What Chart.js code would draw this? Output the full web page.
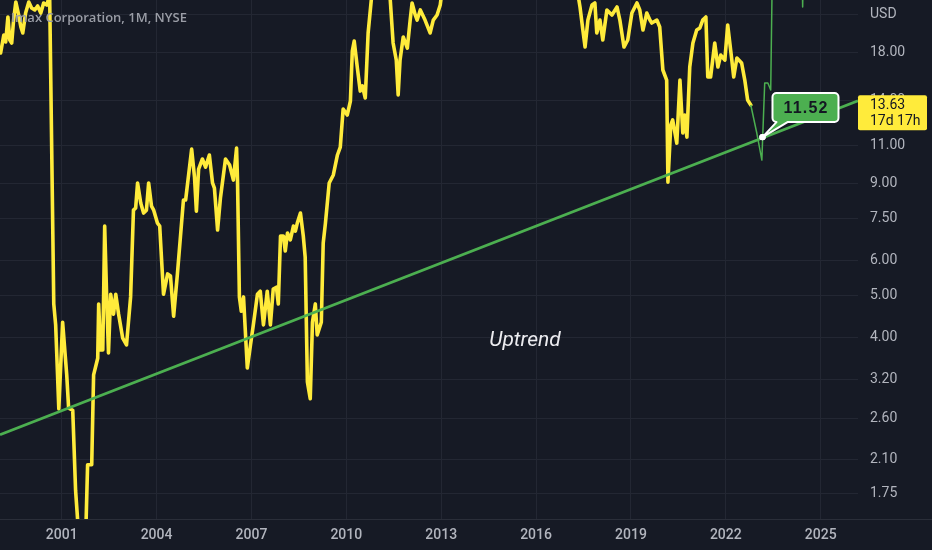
<!DOCTYPE html>
<html><head><meta charset="utf-8">
<script src="https://cdn.jsdelivr.net/npm/chart.js@4"></script>
<style>html,body{margin:0;padding:0;background:#161a25;overflow:hidden}canvas{display:block}</style>
</head><body>
<canvas id="c" width="932" height="550"></canvas>
<script>
const yearTicks=[2001,2004,2007,2010,2013,2016,2019,2022,2025];
const priceTicks=[1.75,2.1,2.6,3.2,4,5,6,7.5,9,11,14,18,22];
const priceDates=[1999.07,1999.17,1999.23,1999.30,1999.36,1999.42,1999.48,1999.55,1999.64,1999.71,
1999.77,1999.86,1999.96,2000.05,2000.15,2000.24,2000.34,2000.43,2000.53,2000.62,
2000.75,2000.81,2000.91,2001.03,2001.16,2001.22,2001.35,2001.44,2001.54,2001.76,
2001.82,2001.95,2002.01,2002.14,2002.17,2002.23,2002.30,2002.36,2002.42,2002.48,
2002.55,2002.64,2002.71,2002.80,2002.93,2003.05,2003.18,2003.27,2003.34,2003.40,
2003.50,2003.59,2003.68,2003.75,2003.84,2003.91,2004.03,2004.10,2004.22,2004.35,
2004.44,2004.54,2004.66,2004.85,2004.92,2005.11,2005.20,2005.26,2005.33,2005.45,
2005.55,2005.67,2005.77,2005.83,2005.93,2006.02,2006.18,2006.31,2006.43,2006.53,
2006.56,2006.62,2006.68,2006.75,2006.87,2006.97,2007.06,2007.19,2007.28,2007.38,
2007.50,2007.60,2007.69,2007.79,2007.85,2007.92,2008.01,2008.07,2008.14,2008.23,
2008.33,2008.39,2008.45,2008.55,2008.64,2008.70,2008.77,2008.86,2008.93,2009.02,
2009.08,2009.21,2009.27,2009.34,2009.46,2009.59,2009.72,2009.81,2009.90,2010.03,
2010.13,2010.19,2010.25,2010.35,2010.44,2010.51,2010.60,2010.69,2010.79,2010.95,
2011.23,2011.39,2011.48,2011.58,2011.64,2011.70,2011.80,2011.93,2012.02,2012.08,
2012.18,2012.24,2012.34,2012.49,2012.65,2012.75,2012.87,2012.97,2013.06,2013.91,
2014.86,2015.81,2016.60,2017.23,2017.39,2017.48,2017.55,2017.64,2017.77,2017.86,
2017.92,2018.02,2018.11,2018.24,2018.40,2018.56,2018.65,2018.78,2018.90,2019.03,
2019.19,2019.28,2019.38,2019.50,2019.60,2019.66,2019.82,2019.91,2020.01,2020.13,
2020.17,2020.26,2020.32,2020.45,2020.55,2020.64,2020.70,2020.77,2020.86,2020.96,
2021.08,2021.18,2021.27,2021.37,2021.43,2021.52,2021.65,2021.75,2021.84,2021.97,
2022.06,2022.19,2022.25,2022.35,2022.50,2022.60,2022.69,2022.79];
const priceCloses=[17.96,19.76,19.04,21.73,19.24,18.94,21.38,23.52,21.96,20.61,
19.97,22.19,23.52,22.79,22.55,23.03,22.19,23.40,23.15,24.40,
4.77,4.27,2.74,4.33,3.28,2.75,2.72,1.78,1.40,1.40,
2.04,2.04,3.28,3.58,4.77,3.74,3.74,7.20,5.02,3.68,
5.02,4.52,5.02,4.52,3.98,3.84,4.95,7.83,7.92,9.04,
8.13,7.71,7.83,9.04,8.00,7.83,7.31,7.20,5.02,5.59,
5.53,4.47,5.59,8.26,8.26,10.81,9.33,7.79,9.73,10.26,
9.83,10.48,9.04,8.80,7.05,8.35,10.26,9.94,9.18,10.87,
9.18,4.95,4.59,4.95,3.40,3.84,4.27,5.02,5.10,4.27,
5.10,4.27,5.16,5.21,4.77,6.83,6.83,6.31,6.94,6.69,
7.20,7.01,7.31,7.71,6.83,6.11,3.16,2.89,4.33,4.77,
4.05,4.33,6.58,7.31,9.04,9.43,10.48,10.93,13.36,12.94,
13.94,18.15,19.14,16.59,14.69,15.09,14.16,19.97,23.77,30,
30,23.77,18.94,17.31,14.39,17.31,19.55,18.44,21.38,23.40,
21.96,21.38,22.55,21.38,19.97,21.38,21.96,23.15,26,33,
31,35,31,27,22.91,20.28,18.54,21.38,23.15,23.40,
19.97,21.38,19.24,22.55,21.96,22.91,21.38,18.54,19.24,22.19,
23.40,22.55,20.28,22.19,21.38,21.05,21.38,20.61,16.42,15.57,
9.08,12.28,12.61,11.16,15.57,11.77,12.94,11.52,16.68,18.94,
20.28,20.50,21.38,21.73,15.82,15.82,18.94,16.68,17.77,17.31,
20.83,17.31,15.82,17.49,17.04,15.57,14.01,13.65];
const recentDates=[2022.79,2022.98,2023.14,2023.23,2023.33,2023.42,2023.50,2024.38,2024.43,2024.48];
const recentCloses=[13.65,11.77,10.20,15.33,15.33,14.77,40,40,22.91,40];
const trendDates=[1999.05,2026.18];
const trendValues=[2.39,13.95];
const pivotDates=[2023.16];
const pivotValues=[11.52];
const trendLabelValue=13.63;
const trendLabelText='13.63';
const countdownText='17d 17h';
const pivotLabelText='11.52';
const titleText='Imax Corporation, 1M, NYSE';
const annotationText='Uptrend';
const annotationAt={x:2015.65,y:3.82};
const currencyText='USD';

const toXY=(xs,ys)=>xs.map((v,i)=>({x:v,y:ys[i]}));
const BG='#161a25', GRID='#232733', AXIS_TXT='#b2b5be';

const overlay={
  id:'overlay',
  beforeDraw(chart){const c=chart.ctx;c.save();c.fillStyle=BG;c.fillRect(0,0,chart.width,chart.height);c.restore();},
  afterDraw(chart){
    const {ctx,chartArea:a,scales:{x,y}}=chart;
    ctx.save();
    ctx.strokeStyle='#2a2e39';ctx.lineWidth=1;
    ctx.beginPath();ctx.moveTo(0,a.bottom+0.5);ctx.lineTo(chart.width,a.bottom+0.5);ctx.stroke();
    // title
    ctx.font='600 13px "Open Sans", "Noto Sans", sans-serif';ctx.fillStyle='#9a9da6';
    ctx.textBaseline='middle';ctx.textAlign='left';
    ctx.fillText(titleText,11,18);
    // currency
    ctx.font='14px Roboto, sans-serif';ctx.fillStyle=AXIS_TXT;
    ctx.fillText(currencyText,a.right+12,y.getPixelForValue(22));
    // annotation
    ctx.font='italic 21px Roboto, sans-serif';ctx.fillStyle='#ececf0';ctx.textAlign='center';
    ctx.textBaseline='alphabetic';
    ctx.fillText(annotationText,x.getPixelForValue(annotationAt.x),y.getPixelForValue(annotationAt.y));
    ctx.textBaseline='middle';
    // yellow price label
    const ly=y.getPixelForValue(trendLabelValue);
    ctx.fillStyle='#ffeb3b';
    ctx.beginPath();ctx.roundRect(a.right,ly-10,69,35,2);ctx.fill();
    ctx.fillStyle='#131722';ctx.textAlign='left';ctx.font='14px Roboto, sans-serif';
    ctx.fillText(trendLabelText,a.right+12,ly);
    ctx.fillText(countdownText,a.right+12,ly+16);
    // callout
    const pt=chart.getDatasetMeta(0).data[0];
    const px=pt.x,py=pt.y;
    const bx=px+10,by=py-44,bw=66,bh=29,r=4;
    ctx.beginPath();
    ctx.moveTo(bx+r,by);
    ctx.lineTo(bx+bw-r,by);ctx.arcTo(bx+bw,by,bx+bw,by+r,r);
    ctx.lineTo(bx+bw,by+bh-r);ctx.arcTo(bx+bw,by+bh,bx+bw-r,by+bh,r);
    ctx.lineTo(bx+15,by+bh);ctx.lineTo(px,py);ctx.lineTo(bx+4,by+bh);
    ctx.lineTo(bx+r,by+bh);ctx.arcTo(bx,by+bh,bx,by+bh-r,r);
    ctx.lineTo(bx,by+r);ctx.arcTo(bx,by,bx+r,by,r);
    ctx.closePath();
    ctx.fillStyle='#4caf50';ctx.fill();
    ctx.strokeStyle='#ffffff';ctx.lineWidth=2;ctx.lineJoin='round';ctx.stroke();
    ctx.fillStyle='#131722';ctx.font='bold 16px "Liberation Sans", Arial, sans-serif';
    ctx.textAlign='center';ctx.letterSpacing='1.2px';
    ctx.fillText(pivotLabelText,bx+bw/2+0.6,by+bh/2+1);
    ctx.letterSpacing='0px';
    ctx.beginPath();ctx.arc(px,py,3.2,0,Math.PI*2);ctx.fillStyle='#ffffff';ctx.fill();
    ctx.restore();
  }
};

const zeroPad=s=>{s.paddingTop=0;s.paddingBottom=0;s.paddingLeft=0;s.paddingRight=0;};

new Chart(document.getElementById('c'),{
  type:'line',
  data:{datasets:[
    {data:toXY(pivotDates,pivotValues),showLine:false,pointRadius:3.2,pointBackgroundColor:'#fff',pointBorderWidth:0,clip:false},
    {data:toXY(trendDates,trendValues),borderColor:'#4caf50',borderWidth:2.7,pointRadius:0,clip:0},
    {data:toXY(recentDates,recentCloses),borderColor:'#4caf50',borderWidth:1.5,pointRadius:0,clip:0,borderJoinStyle:'round'},
    {data:toXY(priceDates,priceCloses),borderColor:'#ffeb3b',borderWidth:3.6,pointRadius:0,clip:0,borderJoinStyle:'round',borderCapStyle:'round'}
  ]},
  options:{
    responsive:false,animation:false,devicePixelRatio:1,
    layout:{padding:0,autoPadding:false},
    plugins:{legend:{display:false},tooltip:{enabled:false}},
    scales:{
      x:{type:'linear',min:1999.05,max:2026.18,
        afterBuildTicks:s=>{s.ticks=yearTicks.map(v=>({value:v}));},
        afterFit:s=>{s.height=31;zeroPad(s);},
        grid:{color:GRID,drawTicks:false,tickLength:0},
        border:{display:false},
        ticks:{autoSkip:false,maxRotation:0,padding:8,color:AXIS_TXT,font:{family:'Roboto',size:14,weight:'500'},callback:v=>String(v)}},
      y:{type:'logarithmic',position:'right',min:1.531,max:23.77,
        afterBuildTicks:s=>{s.ticks=priceTicks.map(v=>({value:v}));},
        afterFit:s=>{s.width=74;zeroPad(s);},
        grid:{color:GRID,drawTicks:false,tickLength:0},
        border:{display:false},
        ticks:{autoSkip:false,padding:12,color:AXIS_TXT,font:{family:'Roboto',size:14},callback:v=>v===22?'':Number(v).toFixed(2)}}
    }
  },
  plugins:[overlay]
});
</script>
</body></html>
